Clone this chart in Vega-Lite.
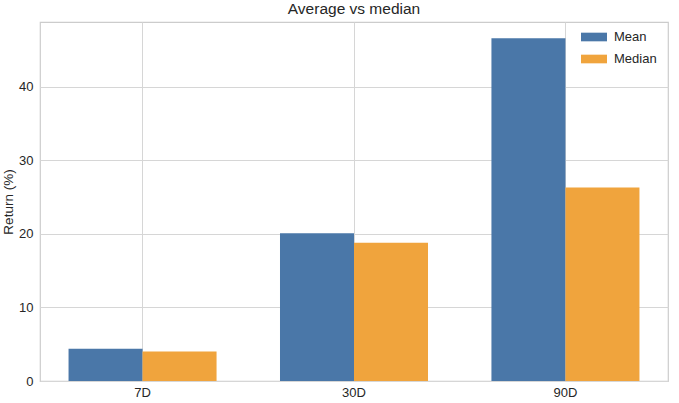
{
  "$schema": "https://vega.github.io/schema/vega-lite/v6.json",
  "autosize": "none",
  "width": 628,
  "height": 359,
  "padding": {"left": 40, "top": 22, "right": 11, "bottom": 22},
  "background": "white",
  "title": {
    "text": "Average vs median",
    "fontSize": 15.5,
    "fontWeight": "normal",
    "font": "Liberation Sans",
    "color": "#262626",
    "offset": 5
  },
  "data": {
    "values": [
      {"period": "7D", "stat": "Mean", "value": 4.4},
      {"period": "7D", "stat": "Median", "value": 4.0},
      {"period": "30D", "stat": "Mean", "value": 20.1},
      {"period": "30D", "stat": "Median", "value": 18.8},
      {"period": "90D", "stat": "Mean", "value": 46.6},
      {"period": "90D", "stat": "Median", "value": 26.3}
    ]
  },
  "mark": {"type": "bar"},
  "encoding": {
    "x": {
      "field": "period",
      "type": "nominal",
      "sort": ["7D", "30D", "90D"],
      "scale": {"paddingInner": 0.3, "paddingOuter": 0.135},
      "axis": {
        "title": null,
        "labelAngle": 0,
        "grid": true,
        "bandPosition": 0.5,
        "ticks": false,
        "domain": false,
        "labelPadding": 5
      }
    },
    "xOffset": {"field": "stat", "type": "nominal", "sort": ["Mean", "Median"]},
    "y": {
      "field": "value",
      "type": "quantitative",
      "scale": {"domain": [0, 48.8], "nice": false},
      "axis": {
        "title": "Return (%)",
        "values": [0, 10, 20, 30, 40],
        "ticks": false,
        "domain": false,
        "labelPadding": 7,
        "titlePadding": 3
      }
    },
    "color": {
      "field": "stat",
      "type": "nominal",
      "sort": ["Mean", "Median"],
      "scale": {"domain": ["Mean", "Median"], "range": ["#4a77a8", "#f0a43d"]},
      "legend": {
        "title": null,
        "orient": "none",
        "legendX": 544,
        "legendY": 5,
        "symbolType": "M-1.35,-0.45L1.35,-0.45L1.35,0.45L-1.35,0.45Z",
        "symbolSize": 370,
        "symbolStrokeWidth": 0,
        "labelFontSize": 13,
        "labelFont": "Liberation Sans",
        "labelColor": "#262626",
        "labelOffset": 10,
        "rowPadding": 5
      }
    }
  },
  "config": {
    "view": {"stroke": "#cccccc", "strokeWidth": 1.2},
    "axis": {
      "gridColor": "#d6d6d6",
      "gridWidth": 1,
      "labelFont": "Liberation Sans",
      "titleFont": "Liberation Sans",
      "labelFontSize": 13,
      "titleFontSize": 13.5,
      "titleFontWeight": "normal",
      "labelColor": "#262626",
      "titleColor": "#262626"
    }
  }
}
